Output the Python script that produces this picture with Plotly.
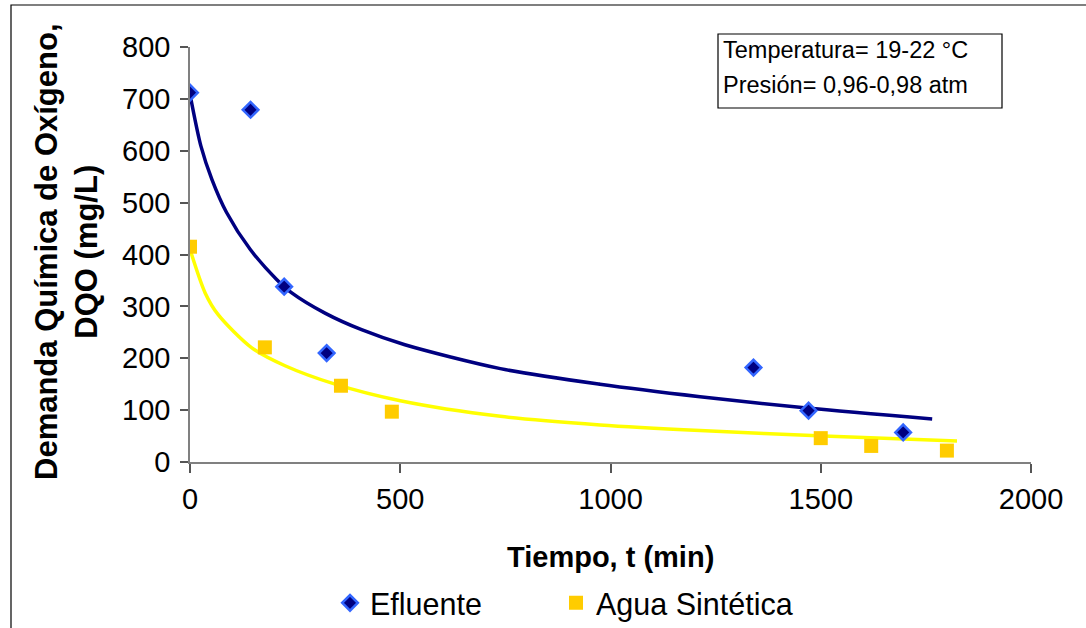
import plotly.graph_objects as go

# Measured chemical oxygen demand over time
t_efluente = [0, 144, 224, 325, 1340, 1471, 1696]
dqo_efluente = [712, 679, 338, 210, 182, 99, 57]

t_agua = [0, 178, 359, 480, 1500, 1620, 1800]
dqo_agua = [415, 221, 147, 97, 46, 31, 22]

# Trend curves (values along each fitted curve)
t_trend_efluente = [0, 26, 52, 87, 143, 206, 242, 321, 408, 511, 738, 975, 1213, 1467, 1765]
dqo_trend_efluente = [709, 609, 545, 481, 410, 352, 326, 287, 255, 226, 180, 150, 126, 104, 83]

t_trend_agua = [0, 36, 67, 147, 226, 345, 500, 738, 975, 1213, 1507, 1824]
dqo_trend_agua = [410, 326, 284, 220, 185.5, 150, 118, 88, 71.5, 60.5, 50, 40.6]

x_ticks = [0, 500, 1000, 1500, 2000]
y_ticks = [0, 100, 200, 300, 400, 500, 600, 700, 800]

FONT = "Liberation Sans, Arial, sans-serif"
W, H = 1086, 628
ML, MR, MT, MB = 190, 55, 47, 166
PW, PH = W - ML - MR, H - MT - MB


def px(x):
    return (x - ML) / PW


def py(y):
    return (H - MB - y) / PH


fig = go.Figure()

fig.add_trace(go.Scatter(
    x=t_trend_efluente, y=dqo_trend_efluente, mode="lines",
    line=dict(color="#000080", width=3.5, shape="spline", smoothing=0.8),
    showlegend=False, hoverinfo="skip"))
fig.add_trace(go.Scatter(
    x=t_trend_agua, y=dqo_trend_agua, mode="lines",
    line=dict(color="#FFFF00", width=3.5, shape="spline", smoothing=0.8),
    showlegend=False, hoverinfo="skip"))

fig.add_trace(go.Scatter(
    x=t_efluente, y=dqo_efluente, mode="markers", name="Efluente",
    legendwidth=181,
    marker=dict(symbol="diamond", size=12, color="#000080",
                line=dict(color="#3366FF", width=2.5))))
fig.add_trace(go.Scatter(
    x=t_agua, y=dqo_agua, mode="markers", name="Agua Sintética",
    marker=dict(symbol="square", size=14, color="#FFCC00",
                line=dict(width=0))))

axis_common = dict(
    showgrid=False, zeroline=False, showline=True, linecolor="#808080",
    linewidth=1.5, ticks="outside", tickcolor="#555555", tickwidth=1.5,
    tickfont=dict(family=FONT, size=29, color="#000000"),
)

fig.update_xaxes(range=[0, 2000], tickvals=x_ticks, ticklen=9,
                 ticklabelstandoff=1, **axis_common)
fig.update_yaxes(range=[0, 800], tickvals=y_ticks, ticklen=8,
                 ticklabelstandoff=4, **axis_common)

annotations = [
    dict(text="<b>Tiempo, t (min)</b>", xref="paper", yref="paper",
         x=0.5, y=py(557), xanchor="center", yanchor="middle",
         showarrow=False, font=dict(family=FONT, size=29, color="#000000")),
    dict(text="<b>Demanda Química de Oxígeno,</b><br><b>DQO (mg/L)</b>",
         xref="paper", yref="paper", x=px(66), y=py(252),
         xanchor="center", yanchor="middle", textangle=-90,
         showarrow=False, font=dict(family=FONT, size=31, color="#000000")),
    dict(text="Temperatura= 19-22 °C", xref="paper", yref="paper",
         x=px(722), y=py(50), xanchor="left", yanchor="middle",
         borderpad=0, showarrow=False,
         font=dict(family=FONT, size=23.5, color="#000000")),
    dict(text="Presión= 0,96-0,98 atm", xref="paper", yref="paper",
         x=px(722), y=py(85), xanchor="left", yanchor="middle",
         borderpad=0, showarrow=False,
         font=dict(family=FONT, size=23.5, color="#000000")),
]

shapes = [
    # outer chart frame
    dict(type="rect", xref="paper", yref="paper",
         x0=px(11), y0=py(700), x1=px(1200), y1=py(5),
         line=dict(color="#000000", width=1.2), fillcolor="rgba(0,0,0,0)"),
    # conditions box
    dict(type="rect", xref="paper", yref="paper",
         x0=px(718), y0=py(108), x1=px(1002), y1=py(34),
         line=dict(color="#000000", width=1.2), fillcolor="#FFFFFF",
         layer="below"),
]

fig.update_layout(
    width=W, height=H,
    margin=dict(l=ML, r=MR, t=MT, b=MB, pad=0),
    paper_bgcolor="#FFFFFF", plot_bgcolor="#FFFFFF",
    font=dict(family=FONT, color="#000000"),
    showlegend=True,
    legend=dict(orientation="h", xref="container", yref="container",
                x=330 / W, y=1 - 603 / H, xanchor="left",
                yanchor="middle", font=dict(family=FONT, size=30.5),
                bgcolor="rgba(0,0,0,0)"),
    annotations=annotations,
    shapes=shapes,
)

fig.write_html("out.html")
